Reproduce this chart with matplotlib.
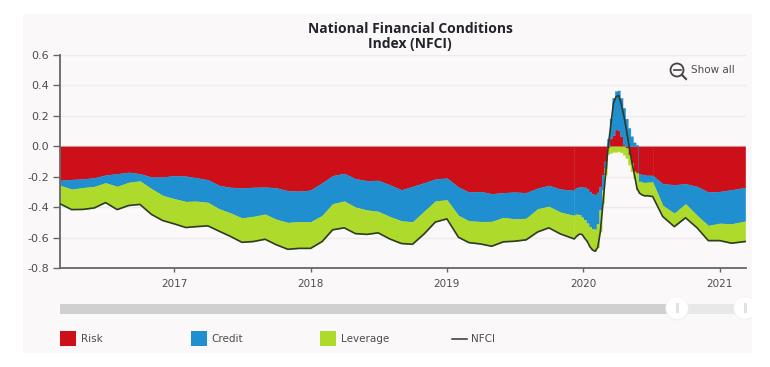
import numpy as np
import pandas as pd
import matplotlib
matplotlib.use('Agg')
import matplotlib.pyplot as plt
from matplotlib.patches import Rectangle, Circle

# monthly readings, Mar 2016 - Dec 2019
calm_risk = [-.224, -.218, -.215, -.207, -.189, -.180, -.171, -.180, -.202, -.202, -.193, -.196,
             -.207, -.220, -.257, -.270, -.273, -.270, -.268, -.273, -.292, -.295, -.288, -.240,
             -.193, -.178, -.213, -.226, -.224, -.253, -.286, -.264, -.240, -.215, -.209, -.268,
             -.301, -.297, -.312, -.305, -.301, -.305, -.275, -.257, -.281, -.290]
calm_credit = [-.033, -.064, -.057, -.057, -.051, -.084, -.066, -.048, -.077, -.121, -.152, -.167,
               -.154, -.149, -.154, -.169, -.198, -.191, -.178, -.207, -.209, -.200, -.209, -.215,
               -.185, -.182, -.187, -.193, -.204, -.209, -.204, -.233, -.187, -.145, -.143, -.187,
               -.189, -.198, -.182, -.163, -.176, -.169, -.136, -.138, -.152, -.165]
calm_leverage = [-.121, -.134, -.143, -.141, -.130, -.152, -.152, -.154, -.169, -.165, -.165, -.171,
                 -.167, -.154, -.147, -.154, -.160, -.165, -.165, -.167, -.176, -.176, -.174, -.171,
                 -.171, -.176, -.174, -.160, -.141, -.147, -.149, -.147, -.149, -.138, -.125, -.143,
                 -.143, -.147, -.163, -.160, -.147, -.141, -.152, -.141, -.143, -.154]

# weekly readings through the 2020 spike
peak_risk = [-.279, -.273, -.268, -.268, -.270, -.281, -.297, -.312, -.319, -.303, -.264, -.187,
             -.099, -.010, .051, .073, .110, .105, .066, .011, -.011, -.055, -.110, -.165,
             -.176, -.180, -.185, -.187, -.191, -.191, -.191]
peak_credit = [-.171, -.174, -.182, -.198, -.213, -.224, -.231, -.231, -.226, -.207, -.154, -.099,
               -.044, .050, .132, .246, .253, .262, .253, .242, .182, .121, .066, .026,
               .010, -.051, -.051, -.051, -.046, -.045, -.044]
peak_leverage = [-.143, -.143, -.127, -.114, -.121, -.121, -.132, -.138, -.145, -.154, -.143, -.088,
                 -.044, -.040, -.044, -.037, -.037, -.033, -.040, -.055, -.066, -.066, -.055, -.044,
                 -.110, -.077, -.084, -.088, -.088, -.092, -.095]

post_dates = ['2020-07-03', '2020-08-01', '2020-09-01', '2020-10-01', '2020-11-01',
              '2020-12-01', '2021-01-01', '2021-02-01', '2021-03-10']
post_risk = [-.191, -.246, -.253, -.246, -.264, -.301, -.297, -.286, -.270]
post_credit = [-.044, -.143, -.187, -.132, -.191, -.220, -.209, -.224, -.222]
post_leverage = [-.095, -.073, -.088, -.092, -.081, -.099, -.114, -.127, -.134]

year_ticks = [2017, 2018, 2019, 2020, 2021]
y_ticks = [0.6, 0.4, 0.2, 0.0, -0.2, -0.4, -0.6, -0.8]
legend_items = ['Risk', 'Credit', 'Leverage', 'NFCI']

RED = '#cc0f18'
BLUE = '#1f8fd0'
GREEN = '#aedb2b'
PANEL = '#faf8f9'
TXT = '#4d4d4d'

W, H = 770, 367


def stack(risk, credit, leverage):
    # positive and negative parts pile up separately
    pos = np.zeros(len(risk))
    neg = np.zeros(len(risk))
    out = []
    for s in (risk, credit, leverage):
        s = np.array(s)
        bottom = np.where(s >= 0, pos, neg)
        out.append((bottom, bottom + s))
        pos = pos + np.clip(s, 0, None)
        neg = neg + np.clip(s, None, 0)
    return out


def draw_fill(ax, dates, risk, credit, leverage, step=None):
    for (b, t), c in zip(stack(risk, credit, leverage), (RED, BLUE, GREEN)):
        ax.fill_between(dates, b, t, fc=c, ec=c, lw=0.2, zorder=2, step=step, snap=False)


peak_dates = pd.date_range('2019-12-08', periods=len(peak_risk), freq='7D')
calm_dates = pd.date_range('2016-03-01', periods=len(calm_risk), freq='MS')
calm_dates = calm_dates[:-1].append(peak_dates[:1])
post_dates = pd.to_datetime(post_dates)
post_dates = peak_dates[-1:].append(post_dates[1:])

fig = plt.figure(figsize=(W / 100, H / 100), dpi=100, facecolor='white')

# page layer in pixel coords
bg = fig.add_axes([0, 0, 1, 1])
bg.set_xlim(0, W)
bg.set_ylim(H, 0)
bg.axis('off')
bg.add_patch(Rectangle((23, 14), 729, 339, fc=PANEL, ec='none'))

ax = fig.add_axes([60 / W, 1 - 268 / H, 686 / W, 213 / H])
ax.patch.set_alpha(0)
ax.set_xlim(pd.Timestamp('2016-03-01'), pd.Timestamp('2021-03-12'))
ax.set_ylim(-0.8, 0.6)

draw_fill(ax, calm_dates, calm_risk, calm_credit, calm_leverage)
draw_fill(ax, peak_dates, peak_risk, peak_credit, peak_leverage, step='mid')
draw_fill(ax, post_dates, post_risk, post_credit, post_leverage)

nfci_dates = calm_dates.append(peak_dates[1:]).append(post_dates[1:])
nfci = np.concatenate([
    np.array(calm_risk) + np.array(calm_credit) + np.array(calm_leverage),
    (np.array(peak_risk) + np.array(peak_credit) + np.array(peak_leverage))[1:],
    (np.array(post_risk) + np.array(post_credit) + np.array(post_leverage))[1:],
])
ax.plot(nfci_dates, nfci, color='#2f3a28', lw=1.2, zorder=3)

ax.set_yticks(y_ticks)
ax.set_yticklabels(['%.1f' % v for v in y_ticks], color=TXT, fontsize=8)
ax.set_xticks([pd.Timestamp('%d-01-01' % y) for y in year_ticks])
ax.set_xticklabels(year_ticks, color=TXT, fontsize=7.5)
ax.grid(axis='y', color='#efebed', lw=1, zorder=1)
ax.set_axisbelow(True)
ax.tick_params(axis='y', length=5, width=1, color='#666666', pad=3)
ax.tick_params(axis='x', length=3, width=1, color='#666666', pad=5)
for s in ('top', 'right'):
    ax.spines[s].set_visible(False)
for s in ('left', 'bottom'):
    ax.spines[s].set_color('#666666')
    ax.spines[s].set_linewidth(1.3)

# title, zoom control, slider and legend sit on the page layer
bg.text(410, 29, 'National Financial Conditions', ha='center', va='center',
        family='Open Sans', weight='bold', fontsize=10, color='#23232b')
bg.text(410, 44, 'Index (NFCI)', ha='center', va='center',
        family='Open Sans', weight='bold', fontsize=10, color='#23232b')

bg.add_patch(Circle((677, 70), 6.5, fc='none', ec='#444444', lw=1.3))
bg.plot([673.5, 680.5], [70, 70], color='#444444', lw=1.2)
bg.plot([682, 686], [75, 79], color='#444444', lw=1.5)
bg.text(691, 70, 'Show all', va='center', color=TXT, fontsize=7.5)

bg.add_patch(Rectangle((60, 304), 617, 10, fc='#d0d0d0', ec='none'))
bg.add_patch(Rectangle((677, 304), 68, 10, fc='#e9e8e9', ec='none'))
for cx in (677, 745):
    bg.add_patch(Circle((cx, 308.5), 12, fc='#efeeef', ec='none', alpha=0.6))
    bg.add_patch(Circle((cx, 308), 11, fc='white', ec='none'))
    bg.add_patch(Rectangle((cx - 1.5, 303), 3, 10, fc='#e2e2e2', ec='none'))
bg.add_patch(Rectangle((752, 290), 18, 40, fc='white', ec='none', zorder=5))

for x, c, label in zip((60, 191, 320), (RED, BLUE, GREEN), legend_items):
    bg.add_patch(Rectangle((x, 331), 16, 15, fc=c, ec='none'))
    bg.text(x + 20.5, 339, label, va='center', color=TXT, fontsize=7.5)
bg.plot([452, 467], [339, 339], color='#333333', lw=1.1)
bg.text(471, 339, legend_items[3], va='center', color=TXT, fontsize=7.5)

fig.savefig('out.png', dpi=100, facecolor='white')
